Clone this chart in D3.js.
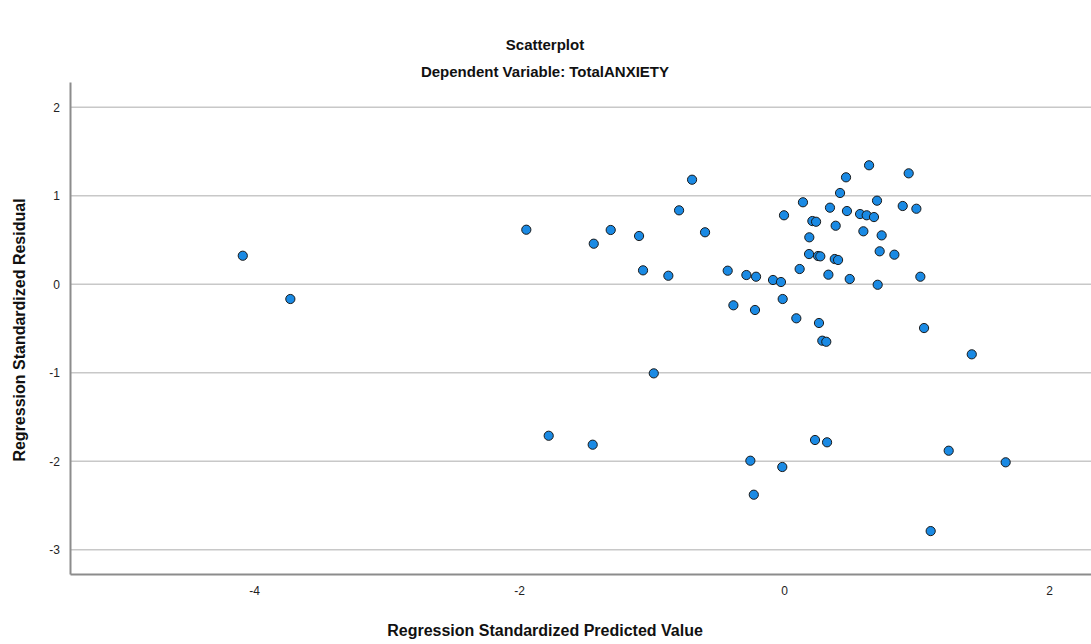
<!DOCTYPE html>
<html>
<head>
<meta charset="utf-8">
<title>Scatterplot</title>
<script src="https://cdn.jsdelivr.net/npm/d3@7"></script>
<style>
  body { margin:0; background:#fff; }
  svg { font-family:"Liberation Sans", Arial, sans-serif; }
</style>
</head>
<body>
<script>
// regression standardized predicted value (x) and residual (y)
var predicted = [-4.085, -3.726, -1.945, -1.436, -1.308, -1.094, -0.694, -0.792, -0.596, -1.064,
  -0.873, -0.425, -0.284, -0.211, -0.083, -0.023, -0.382, -0.219, -0.01, 0.642,
  0.941, 0.468, 0.423, 0.143, 0.702, 0.347, 0.896, 0.999, 0.0, 0.475,
  0.574, 0.624, 0.679, 0.214, 0.242, 0.39, 0.599, 0.737, 0.191, 0.722,
  0.833, 0.189, 0.257, 0.274, 0.383, 0.408, 0.118, 0.335, 0.496, 1.029,
  0.707, 0.093, 0.264, 0.289, 0.319, 1.057, 1.417, 0.234, 0.325, 1.243,
  1.673, -0.013, 1.107, -0.983, -1.776, -1.444, -0.254, -0.228];
var residual = [0.323, -0.166, 0.617, 0.459, 0.614, 0.546, 1.182, 0.836, 0.588, 0.158,
  0.097, 0.154, 0.105, 0.086, 0.049, 0.026, -0.237, -0.29, -0.166, 1.345,
  1.254, 1.209, 1.032, 0.927, 0.945, 0.866, 0.885, 0.854, 0.78, 0.828,
  0.794, 0.78, 0.76, 0.715, 0.707, 0.662, 0.599, 0.553, 0.531, 0.373,
  0.335, 0.342, 0.32, 0.316, 0.286, 0.275, 0.173, 0.109, 0.06, 0.086,
  -0.005, -0.384, -0.437, -0.637, -0.649, -0.494, -0.791, -1.759, -1.785, -1.88,
  -2.011, -2.064, -2.788, -1.006, -1.711, -1.812, -1.993, -2.377];
var xTicks = [-4, -2, 0, 2];
var yTicks = [2, 1, 0, -1, -2, -3];

var W = 1091, H = 644;
var plotL = 70, plotR = 1091, plotT = 82, plotB = 574;

var svg = d3.select("body").append("svg")
  .attr("width", W).attr("height", H);

var x = d3.scaleLinear().domain([-5.389, 2.317]).range([plotL, plotR]);
var y = d3.scaleLinear().domain([-3.273, 2.286]).range([plotB, plotT]);

var fmt = function(d){ return String(d); };  // plain hyphen, like SPSS

// grid
svg.append("g").selectAll("line").data(yTicks).enter().append("line")
  .attr("x1", plotL).attr("x2", plotR)
  .attr("y1", function(d){ return y(d); }).attr("y2", function(d){ return y(d); })
  .style("stroke", "#c8c8c8").style("stroke-width", 1.5);

// y axis
var yAxis = svg.append("g").attr("transform", "translate(" + plotL + ",0)")
  .call(d3.axisLeft(y).tickValues(yTicks).tickSize(0).tickPadding(10).tickFormat(fmt));
yAxis.select(".domain").style("stroke", "#8c8c8c").style("stroke-width", 2);
yAxis.selectAll("text").style("font-size", "12px").style("fill", "#222");

// x axis
var xAxis = svg.append("g").attr("transform", "translate(0," + plotB + ")")
  .call(d3.axisBottom(x).tickValues(xTicks).tickSize(0).tickPadding(12).tickFormat(fmt));
xAxis.select(".domain").style("stroke", "#8c8c8c").style("stroke-width", 2);
xAxis.selectAll("text").style("font-size", "12px").style("fill", "#222");

// points
svg.append("g").selectAll("circle").data(predicted).enter().append("circle")
  .attr("cx", function(d){ return x(d); })
  .attr("cy", function(d, i){ return y(residual[i]); })
  .attr("r", 4.6)
  .style("fill", "#1a8ae4")
  .style("stroke", "#1a1a1a")
  .style("stroke-width", 1);

// titles
svg.append("text").attr("x", 545).attr("y", 50).attr("text-anchor", "middle")
  .style("font-size", "15px").style("font-weight", "bold").style("fill", "#111").text("Scatterplot");
svg.append("text").attr("x", 545).attr("y", 77).attr("text-anchor", "middle")
  .style("font-size", "15px").style("font-weight", "bold").style("fill", "#111").text("Dependent Variable: TotalANXIETY");
svg.append("text").attr("x", 545).attr("y", 636).attr("text-anchor", "middle")
  .style("font-size", "16px").style("font-weight", "bold").style("fill", "#111").text("Regression Standardized Predicted Value");
svg.append("text").attr("transform", "translate(25,330) rotate(-90)").attr("text-anchor", "middle")
  .style("font-size", "16px").style("font-weight", "bold").style("fill", "#111").text("Regression Standardized Residual");
</script>
</body>
</html>
